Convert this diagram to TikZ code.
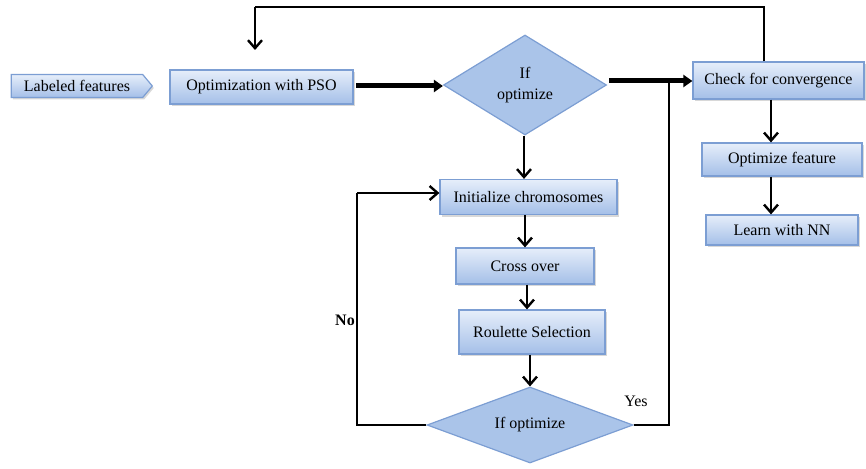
\documentclass[tikz,border=0pt]{standalone}
\usepackage{fontspec}
\setmainfont{Liberation Serif}
\usetikzlibrary{shapes.geometric,shapes.symbols,arrows.meta,shadows}
\definecolor{boxtop}{HTML}{E6EEFA}
\definecolor{boxbot}{HTML}{A4BFE8}
\definecolor{boxline}{HTML}{7C9ED3}
\definecolor{diafill}{HTML}{AAC4E9}
\begin{document}
\begin{tikzpicture}[x=1pt,y=-1pt,
  boxbase/.style={draw=boxline, line width=1.2pt, top color=boxtop, bottom color=boxbot,
    drop shadow={shadow xshift=1.5pt,shadow yshift=-2pt,fill=black!30},
    font=\fontsize{16}{18}\selectfont, inner sep=0pt, text=black},
  stepbox/.style={boxbase, rectangle},
  decision/.style={diamond, draw=boxline, line width=1.2pt, fill=diafill,
    font=\fontsize{16}{18}\selectfont, inner sep=0pt, align=center},
  conn/.style={line width=2.6pt, -{Straight Barb[length=8pt,width=14pt,line width=2.4pt]}},
  plain/.style={line width=2.6pt},
  thick arrow/.style={line width=5pt, -{Triangle[length=9pt,width=12pt]}},
  lbl/.style={font=\fontsize{16}{18}\selectfont\bfseries}
]
\useasboundingbox (0,0) rectangle (866,468);

\node[boxbase, signal, signal to=east, signal pointer angle=100,
      minimum width=141pt, minimum height=23pt] (lab) at (77,86) {Labeled features};
\node[stepbox, minimum width=183pt, minimum height=34pt] (pso) at (261.5,87) {Optimization with PSO};
\node[decision, minimum width=163pt, minimum height=100pt, aspect=1.63] (d1) at (525,85) {If\\[3pt]optimize};
\node[stepbox, minimum width=171pt, minimum height=37pt] (chk) at (778.5,80.5) {Check for convergence};
\node[stepbox, minimum width=160pt, minimum height=33pt] (opt) at (782,159.5) {Optimize feature};
\node[stepbox, minimum width=152pt, minimum height=30pt] (nn) at (782,230) {Learn with NN};
\node[stepbox, minimum width=177pt, minimum height=35pt] (init) at (528.5,197) {Initialize chromosomes};
\node[stepbox, minimum width=138pt, minimum height=36pt] (cross) at (525,266) {Cross over};
\node[stepbox, minimum width=146pt, minimum height=44pt] (roul) at (532,332) {Roulette Selection};
\node[decision, minimum width=206pt, minimum height=76pt, aspect=2.7] (d2) at (530,425) {If optimize};

\coordinate (topR) at (764,7);
\coordinate (topL) at (255,7);
\coordinate (psoIn) at (255,50);
\coordinate (noC) at (357,425);
\coordinate (noT) at (357,193);
\coordinate (yesC) at (669,425);
\coordinate (yesT) at (669,81);
\coordinate (psoOut) at (356,86);
\coordinate (d1Out) at (609,81);

% thick main arrows
\draw[thick arrow] (psoOut) -- (d1.west |- psoOut);
\draw[thick arrow] (d1Out) -- (chk.west |- d1Out);

% feedback from convergence to PSO
\draw[plain] (chk.north -| topR) -- (topR) -- (topL);
\draw[conn] (topL) -- (psoIn);

% vertical chain
\draw[conn] (d1.south -| 524,0) -- (init.north -| 524,0);
\draw[conn] (init.south -| 525,0) -- (cross.north -| 525,0);
\draw[conn] (cross.south -| 527,0) -- (roul.north -| 527,0);
\draw[conn] (roul.south -| 530,0) -- (d2.north);

% right column
\draw[conn] (chk.south -| 771,0) -- (opt.north -| 771,0);
\draw[conn] (opt.south -| 771,0) -- (nn.north -| 771,0);

% no / yes loops
\draw[plain] (d2.west) -- (noC) -- (noT);
\draw[conn] (noT) -- (init.west |- noT);
\draw[plain] (d2.east) -- (yesC) -- (yesT);

\node[lbl] (no) at (345,320) {No};
\node[lbl, font=\fontsize{16}{18}\selectfont] (yes) at (636,401) {Yes};
\end{tikzpicture}
\end{document}
